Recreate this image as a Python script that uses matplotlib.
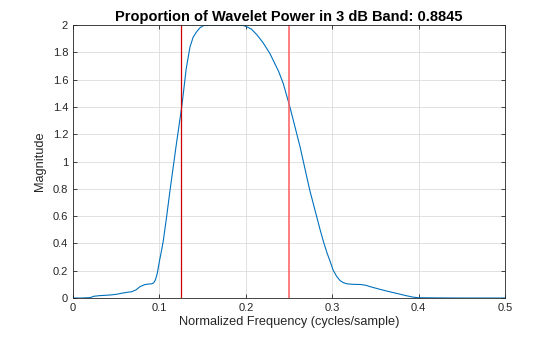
import matplotlib.pyplot as plt

# values
freq = [0.0, 0.01, 0.02, 0.0235, 0.03, 0.043, 0.05, 0.058, 0.064, 0.068, 0.073,
        0.0775, 0.083, 0.087, 0.091, 0.0935, 0.0955, 0.0975, 0.1, 0.1025, 0.1045,
        0.108, 0.1123, 0.119, 0.1258, 0.1277, 0.131, 0.1354, 0.139, 0.143, 0.147,
        0.1508, 0.155, 0.165, 0.18, 0.195, 0.2, 0.2065, 0.2126, 0.22, 0.228,
        0.2318, 0.238, 0.2434, 0.251, 0.2627, 0.274, 0.286, 0.29, 0.294, 0.2975,
        0.301, 0.305, 0.309, 0.313, 0.317, 0.325, 0.333, 0.339, 0.344, 0.355,
        0.365, 0.3745, 0.385, 0.394, 0.4, 0.42, 0.45, 0.5]
mag = [0.0, 0.0, 0.003, 0.012, 0.017, 0.022, 0.027, 0.037, 0.043, 0.046, 0.06,
       0.083, 0.098, 0.102, 0.104, 0.112, 0.135, 0.18, 0.27, 0.35, 0.42,
       0.58, 0.79, 1.1, 1.4, 1.5, 1.68, 1.84, 1.91, 1.95, 1.98,
       1.995, 2.0, 2.0, 2.0, 2.0, 1.99, 1.97, 1.93, 1.87, 1.79,
       1.74, 1.66, 1.57, 1.40, 1.11, 0.79, 0.50, 0.41, 0.33, 0.27,
       0.205, 0.16, 0.128, 0.112, 0.104, 0.1, 0.099, 0.093, 0.083, 0.064,
       0.048, 0.034, 0.018, 0.006, 0.002, 0.001, 0.0, 0.0]
band_lo = 0.125
band_hi = 0.25
ratio = 0.8845

plt.rcParams['font.family'] = ['Liberation Sans', 'DejaVu Sans']

fig = plt.figure(figsize=(5.6, 3.37), dpi=100)
ax = fig.add_axes([0.1304, 0.1157, 0.7714, 0.8101])

ax.plot(freq, mag, color='#0072BD', lw=0.8)
ax.axvline(band_lo, color='#cc0000', lw=0.9)
ax.axvline(band_hi, color='#ff5a5a', lw=1.1)

ax.set_xlim(0, 0.5)
ax.set_ylim(0, 2)
ax.set_xticks([0, 0.1, 0.2, 0.3, 0.4, 0.5])
ax.set_xticklabels(['0', '0.1', '0.2', '0.3', '0.4', '0.5'])
ax.set_yticks([0, 0.2, 0.4, 0.6, 0.8, 1, 1.2, 1.4, 1.6, 1.8, 2])
ax.set_yticklabels(['0', '0.2', '0.4', '0.6', '0.8', '1', '1.2', '1.4', '1.6', '1.8', '2'])
ax.grid(True, color='#dcdcdc', lw=0.6)
ax.set_axisbelow(True)
ax.tick_params(direction='in', length=3, width=0.6, labelsize=8, colors='#262626',
               top=True, right=True)
for s in ax.spines.values():
    s.set_color('#262626')
    s.set_linewidth(0.6)

ax.set_xlabel('Normalized Frequency (cycles/sample)', fontsize=9.2, color='#262626', labelpad=2)
ax.set_ylabel('Magnitude', fontsize=9.2, color='#262626', labelpad=5)
ax.set_title(f'Proportion of Wavelet Power in 3 dB Band: {ratio:.4f}',
             fontsize=10.5, fontweight='bold', pad=3)

fig.savefig('out.png', dpi=100)
